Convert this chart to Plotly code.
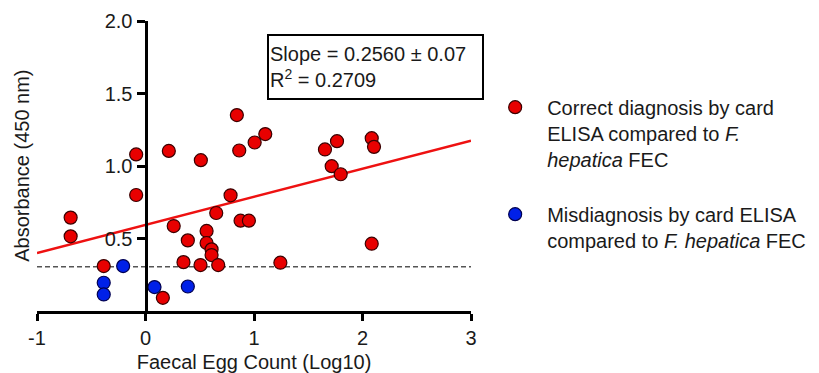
import plotly.graph_objects as go

# ---- data ----
correct_x = [-0.69, -0.69, -0.086, -0.086, -0.385, 0.16, 0.26, 0.39, 0.35, 0.507,
             0.563, 0.563, 0.609, 0.609, 0.67, 0.652, 0.784, 0.876, 0.953, 0.215,
             0.51, 0.842, 0.864, 1.006, 1.104, 1.654, 1.765, 1.716, 1.799, 2.085,
             2.106, 1.243, 2.085]
correct_y = [0.644, 0.515, 0.80, 1.08, 0.31, 0.091, 0.586, 0.487, 0.337, 0.317,
             0.552, 0.469, 0.425, 0.386, 0.317, 0.676, 0.798, 0.623, 0.623, 1.104,
             1.04, 1.351, 1.107, 1.162, 1.22, 1.114, 1.171, 0.999, 0.943, 1.192,
             1.132, 0.333, 0.464]

mis_x = [-0.206, -0.385, -0.385, 0.083, 0.39]
mis_y = [0.31, 0.195, 0.114, 0.165, 0.169]

fit_x = [-1, 3]
fit_y = [0.40, 1.175]

cutoff_x = [-1, 3]
cutoff_y = [0.305, 0.305]

x_ticks = [-1, 0, 1, 2, 3]
x_ticktext = ["-1", "0", "1", "2", "3"]
y_ticks = [0.5, 1.0, 1.5, 2.0]
y_ticktext = ["0.5", "1.0", "1.5", "2.0"]

stats_text = "Slope = 0.2560 ± 0.07<br>R<sup>2</sup> = 0.2709"
legend_correct = "Correct diagnosis by card<br>ELISA compared to <i>F.</i><br><i>hepatica</i> FEC"
legend_mis = "Misdiagnosis by card ELISA<br>compared to <i>F. hepatica</i> FEC"

FONT = "Arial, Liberation Sans, sans-serif"
TXT = "#1a1a1a"
FS = 20

fig = go.Figure()

fig.add_trace(go.Scatter(x=cutoff_x, y=cutoff_y, mode="lines",
                         line=dict(color="#555555", width=1.5, dash="5px,3px"),
                         showlegend=False, hoverinfo="skip"))
fig.add_trace(go.Scatter(x=fit_x, y=fit_y, mode="lines",
                         line=dict(color="#EE1111", width=2.5),
                         showlegend=False, hoverinfo="skip"))
fig.add_trace(go.Scatter(x=correct_x, y=correct_y, mode="markers", name=legend_correct,
                         legendgroup="a",
                         marker=dict(size=13, color="#E80000",
                                     line=dict(color="#3a0000", width=1.2)),
                         cliponaxis=False))
fig.add_trace(go.Scatter(x=mis_x, y=mis_y, mode="markers", name=legend_mis,
                         legendgroup="b",
                         marker=dict(size=13, color="#0020E8",
                                     line=dict(color="#000050", width=1.2)),
                         cliponaxis=False))

fig.add_annotation(text=stats_text, xref="paper", yref="paper", x=0.781, y=0.843,
                   xanchor="center", yanchor="middle", showarrow=False, align="left",
                   width=211, height=60, bordercolor="black", borderwidth=2, borderpad=1,
                   bgcolor="white", font=dict(family=FONT, size=FS, color=TXT))

fig.update_layout(
    width=819, height=373,
    margin=dict(l=37, r=348, t=21, b=62, autoexpand=False),
    plot_bgcolor="white", paper_bgcolor="white",
    font=dict(family=FONT, size=FS, color=TXT),
    showlegend=True,
    legend=dict(x=1.028, y=0.77, xanchor="left", yanchor="top",
                valign="top", itemwidth=54, tracegroupgap=26,
                font=dict(family=FONT, size=FS, color=TXT),
                bgcolor="rgba(0,0,0,0)"),
    xaxis=dict(range=[-1, 3], tickvals=x_ticks, ticktext=x_ticktext,
               showline=True, linecolor="black", linewidth=3,
               ticks="outside", ticklen=7, tickwidth=2.5, tickcolor="black",
               showgrid=False, zeroline=False,
               title=dict(text="Faecal Egg Count (Log10)", standoff=12,
                          font=dict(family=FONT, size=FS, color=TXT)),
               tickfont=dict(family=FONT, size=FS, color=TXT)),
    yaxis=dict(range=[0, 2], tickvals=y_ticks, ticktext=y_ticktext,
               anchor="free", position=0.25,
               showline=True, linecolor="black", linewidth=3,
               ticks="outside", ticklen=8, tickwidth=2.5, tickcolor="black",
               showgrid=False, zeroline=False,
               tickfont=dict(family=FONT, size=FS, color=TXT)),
)

fig.add_annotation(text="Absorbance (450 nm)", xref="paper", yref="paper",
                   x=-0.035, y=0.5, textangle=-90, showarrow=False,
                   xanchor="center", yanchor="middle",
                   font=dict(family=FONT, size=FS, color=TXT))

fig.write_html("out.html")
